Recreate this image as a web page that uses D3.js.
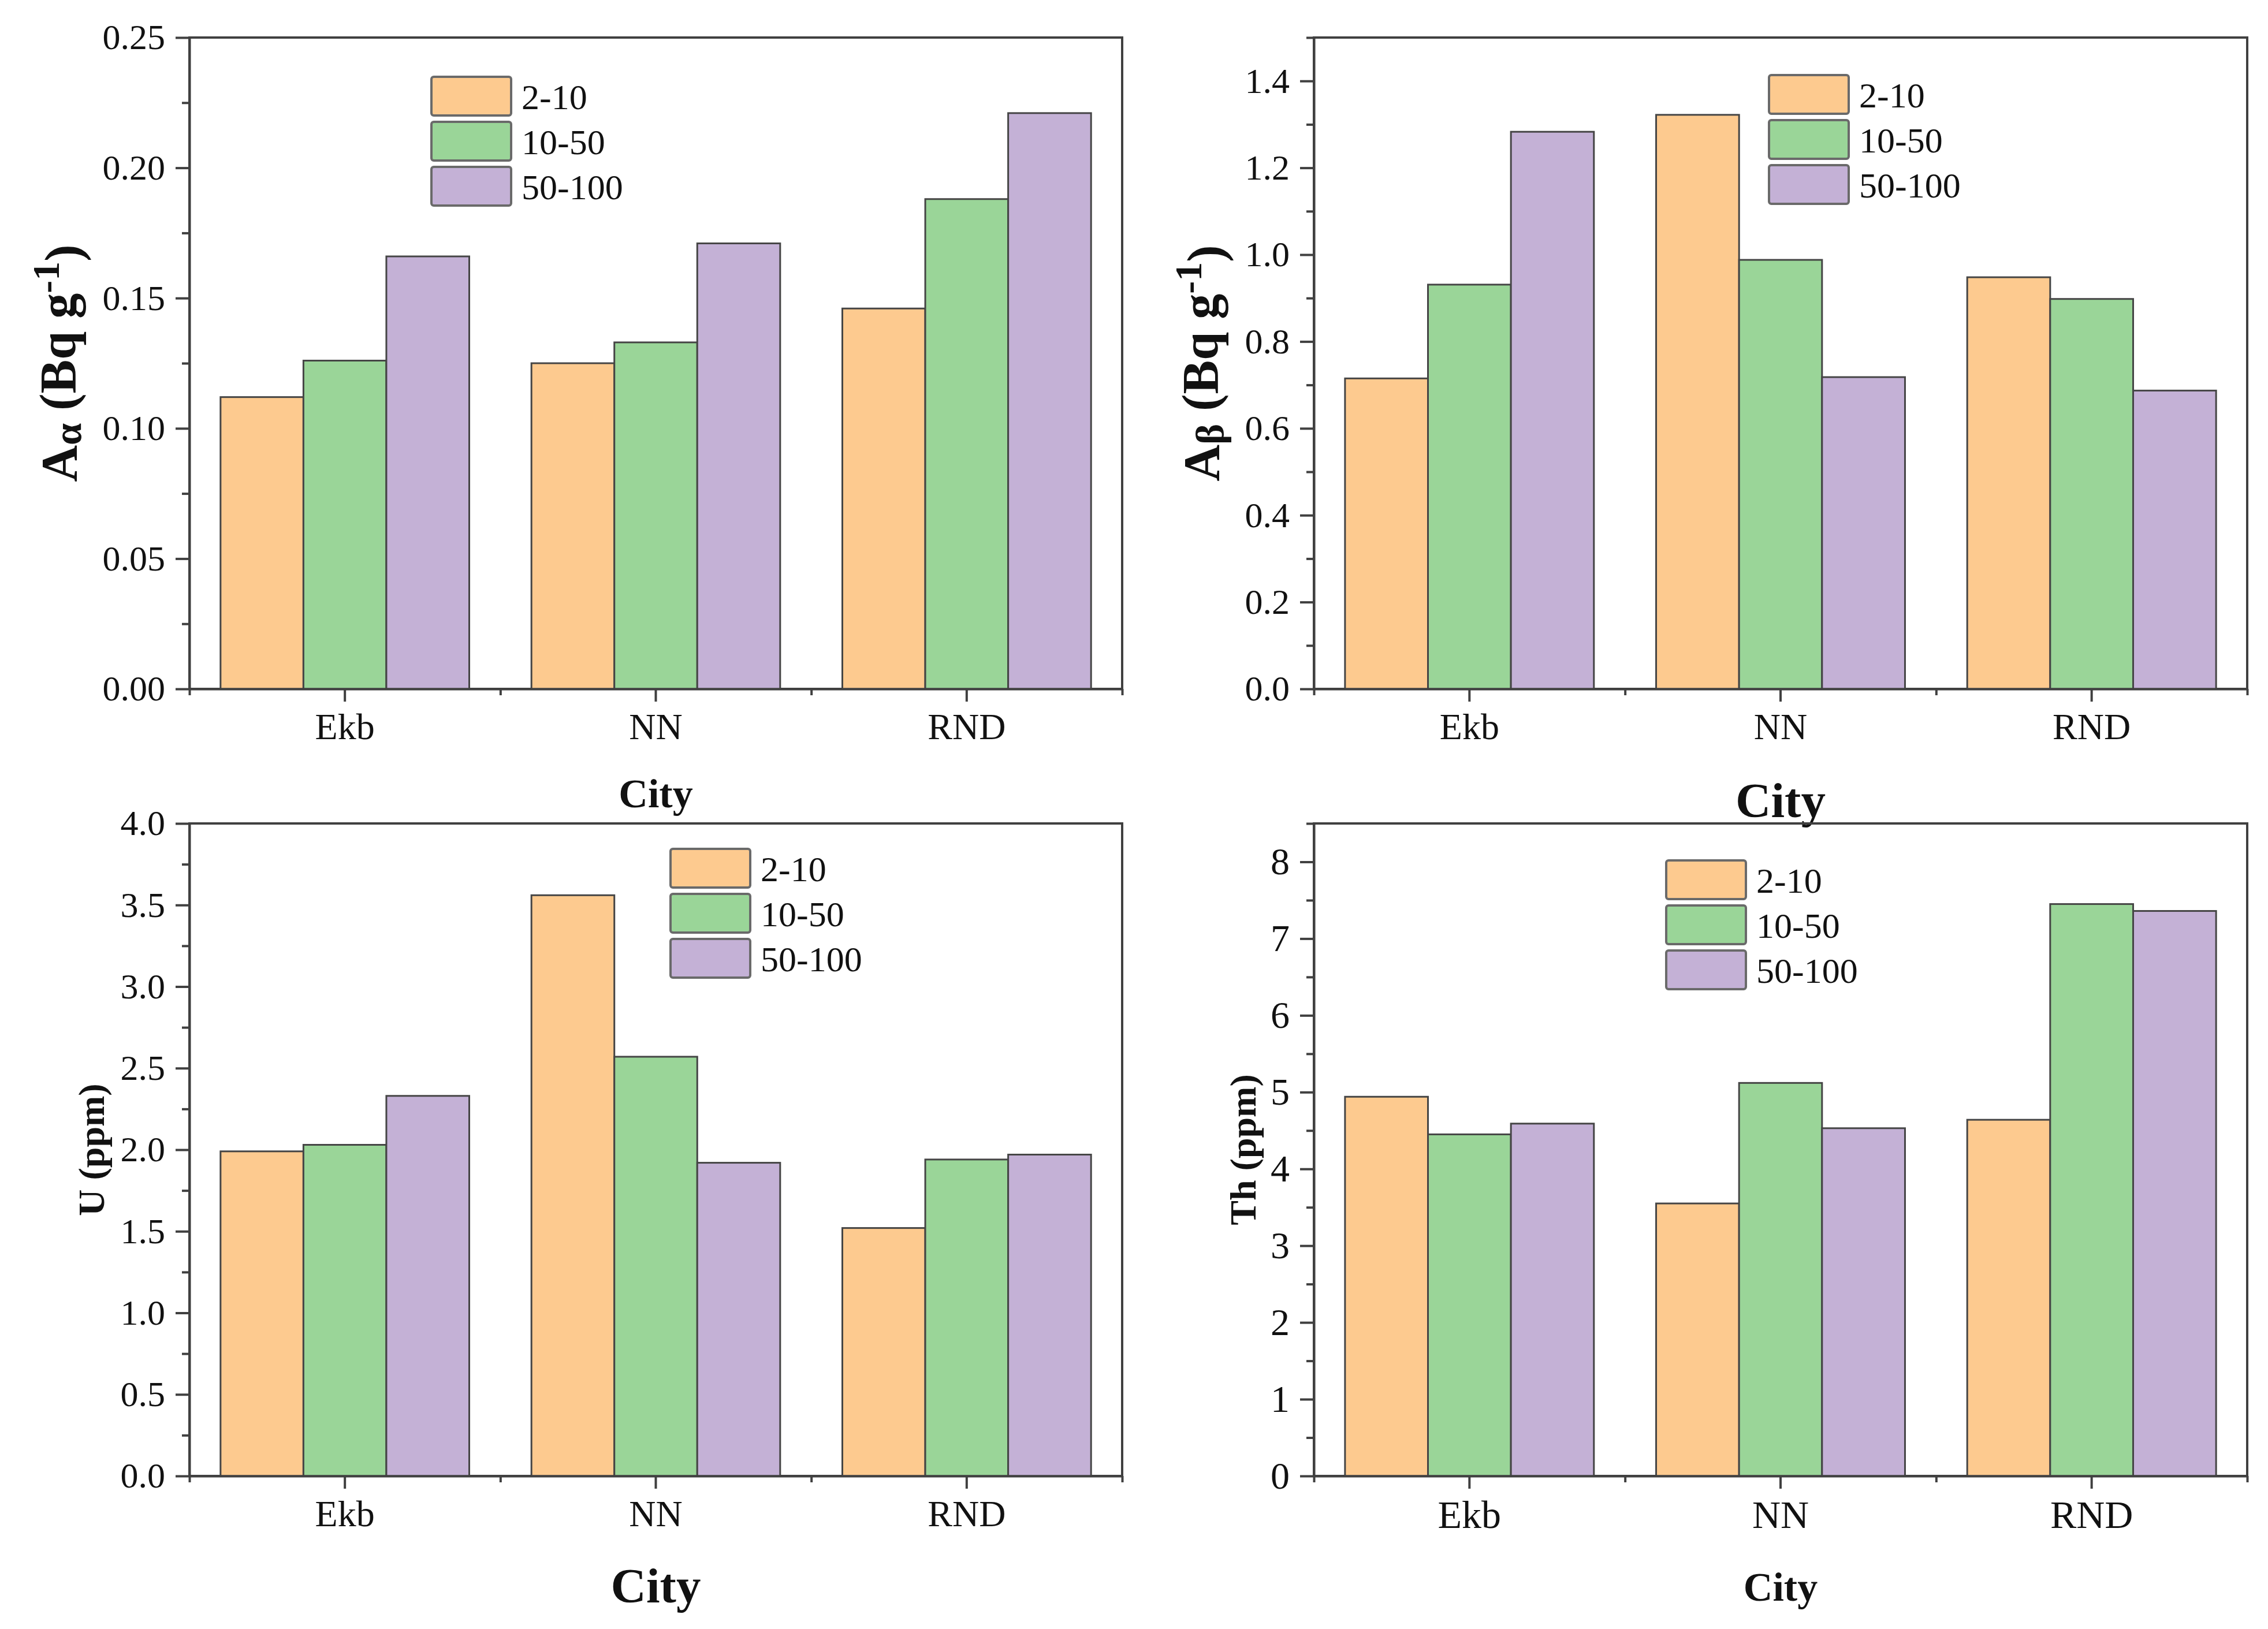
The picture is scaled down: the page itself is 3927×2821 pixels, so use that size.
<!DOCTYPE html>
<html>
<head>
<meta charset="utf-8">
<script src="https://cdn.jsdelivr.net/npm/d3@7"></script>
<style>
  body { margin: 0; background: #fff; }
  text { font-family: "Liberation Serif", "Times New Roman", serif; fill: #111; }
</style>
</head>
<body>
<div id="chart"></div>
<script>
// categories and series
const cities = ['Ekb', 'NN', 'RND'];
const sizeGroups = ['2-10', '10-50', '50-100'];

// values per city, in the order of sizeGroups
const alphaValues = [[0.112, 0.126, 0.166], [0.125, 0.133, 0.171], [0.146, 0.188, 0.221]];
const betaValues = [[0.715, 0.931, 1.283], [1.322, 0.988, 0.718], [0.948, 0.898, 0.687]];
const uraniumValues = [[1.99, 2.03, 2.33], [3.56, 2.57, 1.92], [1.52, 1.94, 1.97]];
const thoriumValues = [[4.94, 4.45, 4.59], [3.55, 5.12, 4.53], [4.64, 7.45, 7.36]];

// tick labels
const alphaTicks = ['0.00', '0.05', '0.10', '0.15', '0.20', '0.25'];
const betaTicks = ['0.0', '0.2', '0.4', '0.6', '0.8', '1.0', '1.2', '1.4'];
const uraniumTicks = ['0.0', '0.5', '1.0', '1.5', '2.0', '2.5', '3.0', '3.5', '4.0'];
const thoriumTicks = ['0', '1', '2', '3', '4', '5', '6', '7', '8'];

const colors = ['#fdca8f', '#9ad598', '#c4b1d6'];
const lineColor = '#404040';

let svgWidth = 3927;
let svgHeight = 2821;

let svg = d3.select('#chart')
    .append('svg')
    .attr('width', svgWidth)
    .attr('height', svgHeight);

svg.append('rect').attr('width', svgWidth).attr('height', svgHeight).attr('fill', '#fff');

//layout of the four panels
let panels = [
    {values: alphaValues, ticks: alphaTicks, max: 0.25, step: 0.05,
     box: {left: 328, right: 1943, top: 65, bottom: 1193},
     legend: {x: 747, y: 133}, ylab: 'alpha', ylabX: -196, ylabSize: 88,
     xlabOffset: 205, xlabSize: 70, tickSize: 62},
    {values: betaValues, ticks: betaTicks, max: 1.5, step: 0.2,
     box: {left: 2275, right: 3891, top: 65, bottom: 1193},
     legend: {x: 3063, y: 130}, ylab: 'beta', ylabX: -165, ylabSize: 88,
     xlabOffset: 222, xlabSize: 85, tickSize: 62},
    {values: uraniumValues, ticks: uraniumTicks, max: 4.0, step: 0.5,
     box: {left: 328, right: 1943, top: 1426, bottom: 2556},
     legend: {x: 1161, y: 1470}, ylab: 'U (ppm)', ylabX: -148, ylabSize: 64,
     xlabOffset: 219, xlabSize: 85, tickSize: 62},
    {values: thoriumValues, ticks: thoriumTicks, max: 8.5, step: 1,
     box: {left: 2275, right: 3891, top: 1426, bottom: 2556},
     legend: {x: 2885, y: 1490}, ylab: 'Th (ppm)', ylabX: -101, ylabSize: 64,
     xlabOffset: 216, xlabSize: 70, tickSize: 66}
];

panels.forEach(p => {
    let w = p.box.right - p.box.left;
    let h = p.box.bottom - p.box.top;
    let g = svg.append('g').attr('transform', `translate(${p.box.left}, ${p.box.top})`);

    //scales
    let xScale = d3.scaleBand().domain(cities).range([0, w]).paddingInner(0).paddingOuter(0);
    let groupScale = d3.scaleBand().domain(sizeGroups)
        .range([xScale.bandwidth() * 0.1, xScale.bandwidth() * 0.9]);
    let yScale = d3.scaleLinear().domain([0, p.max]).range([h, 0]);

    //frame
    g.append('rect')
        .attr('width', w).attr('height', h)
        .attr('fill', 'none').attr('stroke', lineColor).attr('stroke-width', 4);

    //bars
    let cityGroups = g.selectAll('.city')
        .data(cities)
        .enter()
        .append('g')
        .attr('transform', d => `translate(${xScale(d)}, 0)`);

    cityGroups.selectAll('rect')
        .data((d, i) => p.values[i].map((v, j) => ({group: sizeGroups[j], value: v, idx: j})))
        .enter()
        .append('rect')
        .attr('x', d => groupScale(d.group))
        .attr('width', groupScale.bandwidth())
        .attr('y', d => yScale(d.value))
        .attr('height', d => h - yScale(d.value))
        .attr('fill', d => colors[d.idx])
        .attr('stroke', '#454545')
        .attr('stroke-width', 3);

    //y axis, major and minor ticks
    let tickVals = p.ticks.map(t => +t);
    let minorVals = d3.range(p.step / 2, p.max + 1e-9, p.step);

    let yAxis = g.append('g')
        .call(d3.axisLeft(yScale).tickValues(tickVals).tickSize(24).tickPadding(18)
            .tickSizeOuter(0).tickFormat((d, i) => p.ticks[i]));
    yAxis.selectAll('text').style('font-size', p.tickSize + 'px').attr('fill', '#111');

    let yMinor = g.append('g')
        .call(d3.axisLeft(yScale).tickValues(minorVals).tickSize(13).tickSizeOuter(0).tickFormat(''));
    yMinor.select('.domain').remove();

    //x axis
    let xAxis = g.append('g')
        .attr('transform', `translate(0, ${h})`)
        .call(d3.axisBottom(xScale).tickSize(22).tickPadding(20).tickSizeOuter(0));
    xAxis.selectAll('text').style('font-size', p.tickSize + 2 + 'px').attr('fill', '#111');

    let xMinor = g.append('g')
        .attr('transform', `translate(0, ${h})`)
        .call(d3.axisBottom(d3.scaleLinear().domain([0, 3]).range([0, w]))
            .tickValues([0, 1, 2, 3]).tickSize(11).tickSizeOuter(0).tickFormat(''));
    xMinor.select('.domain').remove();

    [yAxis, yMinor, xAxis, xMinor].forEach(a => {
        a.selectAll('line').attr('stroke', lineColor).attr('stroke-width', 4);
        a.selectAll('.domain').attr('stroke', lineColor).attr('stroke-width', 4);
        a.attr('font-family', null);
    });

    //legend
    let legend = svg.append('g').attr('transform', `translate(${p.legend.x}, ${p.legend.y})`);
    sizeGroups.forEach((s, i) => {
        legend.append('rect')
            .attr('x', 0).attr('y', i * 78)
            .attr('width', 138).attr('height', 67)
            .attr('rx', 4)
            .attr('fill', colors[i])
            .attr('stroke', '#6a6a6a')
            .attr('stroke-width', 4);
        legend.append('text')
            .attr('x', 156).attr('y', i * 78 + 34)
            .attr('dy', '0.35em')
            .style('font-size', '62px')
            .text(s);
    });

    //axis titles
    let ylab = g.append('text')
        .attr('transform', `translate(${p.ylabX}, ${h / 2}) rotate(-90)`)
        .attr('text-anchor', 'middle')
        .style('font-size', p.ylabSize + 'px')
        .style('font-weight', 'bold');
    if (p.ylab === 'alpha' || p.ylab === 'beta') {
        ylab.append('tspan').text('A');
        ylab.append('tspan')
            .attr('dy', '0.12em')
            .style('font-size', '78%')
            .text(p.ylab === 'alpha' ? 'α' : 'β');
        ylab.append('tspan').attr('dy', '-0.12em').text(' (Bq g');
        ylab.append('tspan')
            .attr('dy', '-0.42em')
            .style('font-size', '75%')
            .text('-1');
        ylab.append('tspan').attr('dy', '0.42em').text(')');
    } else {
        ylab.text(p.ylab);
    }

    g.append('text')
        .attr('x', w / 2)
        .attr('y', h + p.xlabOffset)
        .attr('text-anchor', 'middle')
        .style('font-size', p.xlabSize + 'px')
        .style('font-weight', 'bold')
        .text('City');
});
</script>
</body>
</html>
